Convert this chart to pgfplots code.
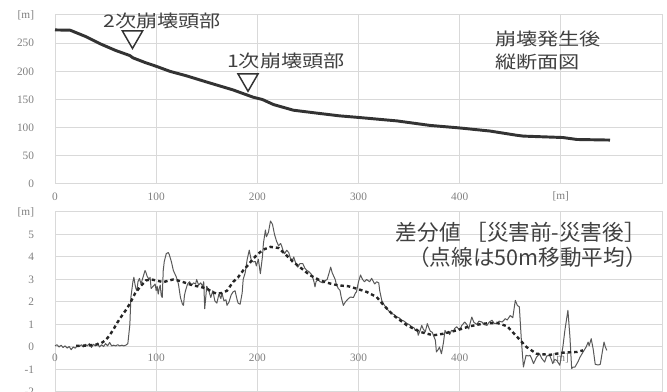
\documentclass[border=0pt]{standalone}
\usepackage{pgfplots}
\pgfplotsset{compat=1.18}
\usepackage{graphicx}
\usepackage{fontspec}
\setmainfont{Liberation Serif}
\newfontfamily\jp{Noto Sans CJK JP}
\usetikzlibrary{shapes.geometric}
\definecolor{gridc}{HTML}{D9D9D9}
\definecolor{tickc}{HTML}{7F7F7F}
\definecolor{txtc}{HTML}{404040}
\definecolor{linec}{HTML}{333333}

\pgfplotstableread{
x y
0 273.5
15 273
30 262
44.5 249
60 237
74 228
77 224
90 215
100 209
113.6 200
130 192
150 181
176 167
196 154
205 150
216 141
235.6 131
258 126
281 121
301 118
338 112
370.6 104
400 99.5
430 94
456 86.6
463 85
502 82.5
516 79
548.6 78
}\profile

\pgfplotstableread{
x y
0 0.05
2 0.1
4 0.0
6 0.08
8 -0.02
10 0.05
12 -0.05
14 0.02
16 -0.12
18 0.0
20 -0.05
22 0.05
24 0.02
26 0.1
28 0.0
30 0.12
32 0.05
34 0.15
36 -0.02
38 0.12
40 0.05
42 0.18
44 0.0
46 0.1
48 0.02
50 0.15
52 0.05
54 0.2
56 0.05
58 0.08
60 0.05
62 0.1
64 0.05
66 0.08
68 0.05
70 0.08
72 0.15
74 1.0
75 2.2
77 2.9
78 3.1
79 2.8
80 2.6
81 2.5
82 2.9
83.5 3.05
85 2.8
87 3.1
89 3.4
90 3.3
91 3.15
93 3.0
94 3.1
95 2.6
97 2.7
99 2.8
100 2.5
101 2.7
102 2.35
103 2.6
104 2.75
105 2.3
106 2.2
107 3.4
108 3.8
110 4.15
112 4.2
113 4.1
115 3.8
117 3.4
119 3.2
120 3.1
122 2.8
124 2.2
126 1.9
127 1.85
128 2.3
129 2.5
131 2.8
133 2.9
135 2.75
137 2.85
139 2.8
140 3.0
142 2.75
144 2.85
146 2.7
147 2.9
148 1.7
149 2.2
150 2.7
152 2.5
154 2.2
156 2.5
158 2.05
160 1.95
162 2.35
164 2.15
165 2.4
167 2.05
169 2.1
170 1.85
172 2.0
174 2.3
176 2.45
178 2.5
180 2.1
181 1.95
183 1.9
185 2.4
186 3.0
188 3.3
190 3.9
192 4.3
194 3.85
196 3.78
198 3.8
199 3.6
201 3.9
203 3.26
205 4.0
206 4.6
208 5.2
209 4.9
211 5.1
213 5.6
215 5.45
217 5.0
219 4.7
221 4.5
223 4.6
224 4.5
226 4.2
227 4.15
229 4.3
231 4.2
233 3.9
234 3.78
236 4.0
237 3.85
239 3.6
240 3.55
242 3.7
245 3.7
247 3.5
249 3.4
251 3.35
254 3.2
256 2.9
257 2.67
258 2.9
260 3.0
262 2.9
265 2.85
267 2.95
269 3.0
271 3.3
272.5 3.55
274 3.3
275 3.2
277 3.0
278 2.8
280 2.6
281.7 2.52
283 2.2
285 1.85
287 2.0
290 2.15
292 2.22
295 2.2
297 2.4
298 2.45
300 2.9
302 3.2
304 3.0
306 2.9
308 3.0
311 2.9
313 3.05
316 2.8
318 2.9
320 2.85
321 2.5
323 2.07
325 1.9
328 1.7
330 1.6
333 1.48
335 1.45
338 1.33
340 1.3
343 1.19
345 1.15
348 1.04
350 1.0
353 0.89
355 0.85
356 0.74
358 0.8
359 0.52
361 0.75
362.5 0.96
364 0.8
366 0.67
368 1.04
370 0.8
371 0.7
373 0.65
374 0.52
376 0.3
377 -0.22
379 -0.1
380 0.0
382 -0.3
384 0.2
385.5 0.74
387 0.6
389 0.7
390 0.55
392 0.74
394 0.7
395 0.82
397 0.9
400 0.75
402 0.95
405 1.11
407 1.0
409 0.8
410 1.0
412 1.33
414 1.1
417 1.0
419 1.15
422 1.11
424 1.0
427 0.96
429 1.1
432 1.19
434 1.05
437 1.04
439 1.15
442 1.11
444 1.2
445 1.26
447 1.2
450 1.4
452.5 1.3
455 2.07
457 1.85
459 1.78
461 0.3
463 -0.89
465.6 -0.37
468 -0.4
469.5 -0.37
471 -0.5
473 -0.74
476 -0.45
479 -0.3
481 -0.5
484 -0.67
486 -0.4
489 -0.37
491 -0.6
492 -0.74
494 -0.55
496 -0.6
499 -0.81
502 0.0
504 0.74
507 1.63
509 0.45
510.7 -0.96
512 -0.9
514 -0.89
517 -0.65
519 -0.45
522 -0.22
525 0.0
527 0.22
528 0.05
530 0.37
532 -0.1
534 -0.77
537 -0.8
539 -0.77
541 -0.22
542.7 0.22
544 0.0
545.5 -0.15
}\diff

\pgfplotstableread{
x y
21 0.05
30 0.06
40 0.1
45 0.15
50 0.3
54 0.52
58 0.8
61 1.04
64 1.25
67.5 1.48
71 1.7
74 1.93
79 2.37
84 2.67
90 2.96
95 3.0
100 2.96
107 2.88
112 2.95
117 3.0
122 2.95
127 2.88
132 2.8
137 2.73
143 2.68
150 2.6
155 2.45
160 2.37
165 2.4
170 2.5
176 2.89
181 3.1
186 3.4
191 3.65
196 3.93
201 4.15
206 4.33
213 4.45
221 4.4
227 4.15
235.5 3.78
244 3.48
252 3.19
262 2.96
272 2.82
280 2.74
290 2.7
297.6 2.6
308 2.45
318 2.22
325 1.85
334.5 1.41
348 0.96
361 0.67
374 0.52
384 0.59
397 0.74
410 0.92
423 1.04
437 1.07
447 0.92
457 0.44
466 0.0
476 -0.3
489 -0.35
502 -0.25
516 -0.22
522 -0.15
}\avg

\newcommand\wide[1]{\scalebox{1.22}[1]{#1}}
\tikzset{
  jpt/.style={font=\jp\fontsize{13}{16}\selectfont, text=txtc, inner sep=0pt},
  jpb/.style={font=\jp\fontsize{16.2}{19}\selectfont, text=txtc, inner sep=0pt},
  tri/.style={draw=linec, line width=1.1pt, regular polygon, regular polygon sides=3, shape border rotate=180, minimum size=17.5pt, inner sep=0pt, anchor=corner 1},
}
\pgfplotsset{
  common/.style={scale only axis, width=455.25pt, xmin=0, xmax=600,
   grid=major, major grid style={gridc, line width=0.75pt},
   axis line style={gridc, line width=0.75pt},
   major tick length=0pt,
   tick label style={font=\fontsize{8.5}{9}\selectfont, text=tickc},
   yticklabel style={anchor=east, inner sep=0pt, xshift=-15.5pt},
   xticklabel style={anchor=center, inner sep=0pt},
   xtick={0,100,...,500}, xticklabels={0,100,200,300,400,[m]},
   clip=false,
  },
}

\begin{document}
\begin{tikzpicture}
\begin{axis}[common, at={(41.25pt,156pt)}, anchor=south west, height=126.75pt,
  ymin=0, ymax=300, ytick={0,50,...,300}, yticklabels={0,50,100,150,200,250,[m]},
  xticklabel style={yshift=-9.5pt}]
\addplot[linec, line width=2.2pt, line join=round] table[x=x,y=y]{\profile};
\node[jpt] at (axis cs:105.8,288.7) {\wide{2次崩壊頭部}};
\node[jpt] at (axis cs:228.3,219) {\wide{1次崩壊頭部}};
\node[jpt, anchor=west] at (axis cs:435,258) {\wide{崩壊発生後}};
\node[jpt, anchor=west] at (axis cs:435,216) {\wide{縦断面図}};
\node[tri] at (axis cs:76.6,238) {};
\node[tri] at (axis cs:190.8,162) {};
\end{axis}

\begin{axis}[common, at={(41.25pt,0pt)}, anchor=south west, height=135pt,
  ymin=-2, ymax=6, ytick={-2,-1,...,6}, yticklabels={-2,-1,0,1,2,3,4,5,[m]},
  xticklabel style={yshift=25.5pt}]
\addplot[color=black!65, line width=0.75pt, line join=round] table[x=x,y=y]{\diff};
\addplot[color=black!85, line width=1.8pt, dash pattern=on 2.6pt off 2.2pt] table[x=x,y=y]{\avg};
\node[jpb] at (axis cs:460.4,5.11) {差分値 ［災害前-災害後］};
\node[jpb] at (axis cs:467,4.0) {（点線は50m移動平均）};
\end{axis}
\pgfresetboundingbox
\useasboundingbox (0,0) rectangle (500.25pt,294pt);
\end{tikzpicture}
\end{document}
